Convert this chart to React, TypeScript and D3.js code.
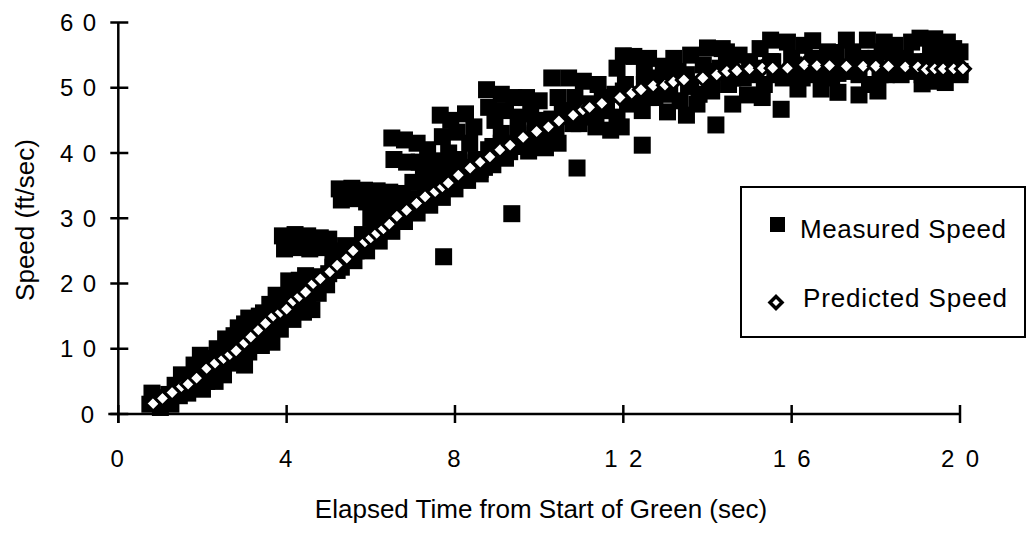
import React from "react";
import * as d3 from "d3";

// ---- data ----
const xTicks = [0, 4, 8, 12, 16, 20];
const yTicks = [0, 10, 20, 30, 40, 50, 60];
const xTitle = "Elapsed Time from Start of Green (sec)";
const yTitle = "Speed (ft/sec)";
const legendLabels = ["Measured Speed", "Predicted Speed"];

// measured speed: [time (sec), speed (ft/sec)]
const measuredPoints: [number, number][] = [
  // low band
  [0.75, 1.5], [0.8, 3.2], [1.0, 2.2], [1.0, 1.0], [1.2, 3.0], [1.25, 1.5], [1.35, 4.4], [1.45, 2.8],
  [1.6, 5.2], [1.65, 3.2], [1.8, 7.5], [1.8, 4.5], [1.95, 9.0], [2.0, 6.0], [2.0, 3.8],
  [2.2, 7.5], [2.3, 5.0], [2.45, 9.5], [2.5, 6.0], [2.65, 10.4], [2.6, 7.8],
  [2.85, 13.2], [2.8, 8.0], [2.95, 11.0], [3.1, 14.7], [3.0, 7.5], [3.1, 9.5], [3.25, 12.0],
  [3.45, 15.5], [3.4, 10.5], [3.55, 13.5], [3.75, 18.2], [3.65, 11.0], [3.8, 15.5], [3.85, 13.0],
  [4.05, 20.4], [4.0, 17.0], [4.15, 14.5], [4.3, 19.0], [4.4, 15.6], [4.45, 21.2], [4.5, 17.5],
  [4.6, 16.0], [4.65, 20.0], [4.75, 18.5], [4.85, 21.0], [4.95, 19.8], [5.1, 23.7], [5.2, 22.0],
  [1.1, 2.5], [1.4, 3.5], [1.7, 4.2], [2.1, 5.0], [2.2, 6.5], [2.4, 7.5], [2.6, 9.0], [2.7, 8.5],
  [2.9, 10.0], [3.0, 12.5], [3.2, 11.0], [3.3, 13.5], [3.5, 12.5], [3.6, 15.0], [3.7, 14.0],
  [3.9, 16.5], [4.0, 15.5], [4.1, 18.0], [4.2, 17.5], [4.35, 17.0], [4.4, 19.5], [4.55, 19.0],
  [4.7, 21.0], [4.8, 20.0], [5.0, 21.5], [5.1, 22.5], [5.3, 22.5], [5.35, 24.5],
  [1.5, 6.0], [1.9, 7.0], [2.1, 8.5], [2.35, 10.0], [2.55, 11.5], [2.75, 12.0], [3.0, 13.8],
  [3.35, 15.0], [3.6, 16.8], [3.8, 17.0], [4.3, 20.5],
  // cluster near 26
  [3.9, 27.3], [3.95, 25.3], [4.2, 27.5], [4.25, 25.5], [4.5, 27.3], [4.55, 25.3], [4.8, 27.0],
  [4.85, 25.5], [5.0, 26.8], [5.15, 25.0], [5.4, 25.8], [5.65, 25.0],
  // cluster near 33
  [5.25, 34.5], [5.3, 32.8], [5.55, 34.6], [5.6, 33.0], [5.85, 34.3], [5.9, 32.5], [6.15, 34.2],
  [6.2, 32.0], [6.45, 34.0], [6.5, 32.5], [6.75, 33.8], [6.9, 32.0], [6.0, 30.0], [6.2, 29.3],
  [6.35, 31.5], [6.6, 31.0],
  // cluster near 40
  [6.5, 42.3], [6.55, 39.0], [6.8, 42.0], [6.85, 38.6], [7.1, 41.5], [7.15, 38.6], [7.35, 40.5],
  [7.5, 38.8], [7.65, 45.8], [7.7, 42.5], [7.85, 40.0], [7.9, 45.0], [8.05, 43.2], [8.1, 39.0],
  [8.25, 46.0], [8.35, 41.5], [8.45, 44.0], [8.5, 38.5], [8.6, 37.5],
  [7.0, 35.5], [7.25, 37.0], [7.5, 36.5], [7.8, 38.0], [8.0, 37.5],
  // cluster 8.7-10
  [8.75, 49.7], [8.8, 47.0], [8.95, 45.0], [9.1, 49.0], [9.2, 46.5], [9.4, 48.5], [9.5, 45.5],
  [9.7, 48.5], [9.8, 46.0], [10.0, 48.0], [10.05, 45.0],
  [8.7, 37.8], [8.9, 41.0], [9.1, 43.0], [9.3, 40.2], [9.5, 42.8], [9.75, 40.3], [9.95, 42.0],
  [10.15, 40.8], [10.3, 43.0], [10.45, 41.5],
  // cluster 10-12
  [10.3, 51.5], [10.45, 48.5], [10.55, 46.0], [10.7, 51.5], [10.85, 48.5], [10.95, 44.5],
  [11.05, 51.0], [11.2, 47.5], [11.35, 44.0], [11.4, 50.5], [11.55, 46.5], [11.7, 43.5],
  [11.8, 49.0], [11.85, 45.5], [11.95, 44.0],
  // cluster 12-13
  [11.85, 53.0], [12.0, 54.9], [12.05, 50.5], [12.25, 54.8], [12.3, 48.0], [12.45, 46.5],
  [12.5, 52.5], [12.6, 54.5], [12.75, 48.5], [12.85, 51.5], [12.95, 53.3], [13.05, 46.3], [13.1, 49.0],
  // cluster 13-15
  [13.3, 52.5], [13.35, 48.0], [13.5, 45.8], [13.55, 50.5], [13.6, 55.0], [13.75, 47.5],
  [13.9, 53.5], [14.0, 56.1], [14.1, 49.5], [14.2, 44.3], [14.3, 53.0], [14.35, 56.0],
  [14.5, 50.5], [14.6, 47.5],
  [14.75, 55.0], [14.85, 51.5], [14.95, 48.9], [15.1, 53.0],
  [13.2, 54.5], [13.8, 49.0], [14.45, 55.5], [15.25, 56.0], [15.3, 48.5],
  // right plateau
  [15.35, 50.5], [15.5, 57.3], [15.55, 54.0], [15.75, 46.7], [15.8, 51.5], [15.9, 57.0],
  [16.05, 53.5], [16.15, 49.8], [16.3, 56.5],
  [16.5, 57.2], [16.6, 53.0], [16.7, 49.8], [16.85, 55.5], [16.95, 51.5],
  [17.05, 55.4], [17.1, 49.3], [17.3, 57.3], [17.35, 52.5], [17.6, 48.9], [17.65, 54.5],
  [17.8, 57.3], [17.85, 50.5], [18.0, 54.5], [18.05, 49.5], [18.2, 57.0], [18.25, 52.0],
  [18.45, 56.5], [18.55, 52.2], [18.7, 54.5], [18.85, 57.0],
  [19.05, 57.6], [19.1, 50.6], [19.25, 54.0], [19.4, 57.5], [19.45, 51.0], [19.6, 54.5],
  [19.7, 57.0], [19.65, 50.8], [20.0, 55.5], [20.0, 52.5],
  [16.25, 51.5], [17.45, 55.5], [18.15, 55.5], [18.9, 52.5], [19.3, 55.5], [19.85, 56.0],
  // along the prediction
  [5.5, 25.5], [5.6, 23.5], [5.8, 27.5], [5.9, 25.0], [6.1, 28.5], [6.2, 26.5], [6.4, 30.0],
  [6.5, 28.0], [6.7, 31.5], [6.8, 29.5], [7.0, 33.0], [7.1, 30.8], [7.3, 34.5], [7.4, 32.0],
  [7.6, 35.5], [7.7, 33.2], [7.9, 36.7], [8.0, 34.5], [8.2, 37.8], [8.3, 35.8], [8.5, 39.0],
  [8.6, 36.8], [8.8, 40.5], [8.9, 38.2], [9.1, 41.5], [9.2, 39.2], [9.5, 43.0], [9.6, 41.0],
  [9.9, 44.2], [10.0, 42.0], [10.3, 45.2], [10.4, 43.0], [10.7, 46.5], [10.8, 44.5],
  [11.1, 47.5], [11.2, 45.5], [11.5, 48.5], [11.6, 46.5], [12.0, 49.5], [12.1, 47.5],
  [12.5, 50.5], [12.6, 48.5], [13.0, 51.5], [13.1, 49.5], [13.5, 52.0], [13.6, 50.2],
  [14.0, 52.5], [14.1, 51.0], [14.5, 53.5], [14.6, 51.5], [15.0, 54.0], [15.1, 52.0],
  [15.5, 54.0], [15.6, 52.0], [16.0, 54.5], [16.1, 52.0], [16.5, 54.5], [16.6, 52.0],
  [17.0, 54.0], [17.1, 52.2], [17.5, 54.2], [17.6, 52.0], [18.0, 54.3], [18.1, 52.0],
  [18.5, 54.2], [18.6, 52.0], [19.0, 54.0], [19.1, 52.0], [19.5, 54.0], [19.6, 52.0],
  [19.9, 53.5], [20.0, 52.0],
  // isolated
  [7.73, 24.1], [9.35, 30.7], [10.9, 37.7], [12.45, 41.2],
];

// predicted speed: [time (sec), speed (ft/sec)]
const predictedPoints: [number, number][] = [
  [0.83, 1.6], [1.05, 2.4], [1.28, 3.3], [1.5, 4.2], [1.66, 4.6], [1.86, 5.5], [2.1, 7.0],
  [2.3, 7.8], [2.5, 8.5], [2.65, 9.1], [2.8, 9.7], [3.0, 10.9], [3.15, 11.8], [3.33, 12.9],
  [3.5, 13.9], [3.68, 15.0], [3.85, 15.6], [4.0, 16.1], [4.15, 17.3], [4.3, 18.0], [4.45, 18.7],
  [4.63, 20.0], [4.8, 20.7], [5.03, 21.8], [5.2, 22.8], [5.43, 23.9], [5.58, 25.0], [5.86, 26.4],
  [6.0, 27.0], [6.14, 27.7], [6.3, 28.4], [6.44, 29.1], [6.62, 30.3], [6.85, 31.2], [7.09, 32.3],
  [7.29, 33.3], [7.53, 34.1], [7.7, 34.8], [7.84, 35.4], [8.08, 36.6], [8.36, 37.7], [8.6, 38.6],
  [8.83, 39.4], [9.07, 40.5], [9.31, 41.2], [9.62, 42.4], [9.94, 43.3], [10.22, 44.0],
  [10.47, 44.9], [10.81, 45.8], [11.04, 46.6], [11.2, 47.0], [11.49, 47.6], [11.92, 48.5],
  [12.2, 49.2], [12.42, 49.7], [12.71, 50.3], [12.99, 50.4], [13.19, 50.9], [13.44, 51.2],
  [13.89, 51.5], [14.22, 52.0], [14.46, 52.5], [14.7, 52.6], [15.0, 52.9], [15.3, 53.0],
  [15.55, 53.0], [15.9, 53.0], [16.3, 53.5], [16.6, 53.4], [16.9, 53.4], [17.3, 53.3],
  [17.7, 53.3], [18.0, 53.3], [18.3, 53.3], [18.7, 53.2], [19.0, 53.2], [19.2, 52.8],
  [19.4, 52.9], [19.6, 52.9], [19.85, 52.9], [20.07, 52.9],
];

const FONT = "'Liberation Sans', Arial, Helvetica, sans-serif";

function diamondPath(r: number) {
  return `M0,${-r}L${r},0L0,${r}L${-r},0Z`;
}

export default function App() {
  const W = 1031;
  const H = 533;
  const x = d3.scaleLinear().domain([0, 20]).range([118.3, 960]);
  const y = d3.scaleLinear().domain([0, 60]).range([414, 22.5]);
  const sq = 17;

  return (
    <svg
      width={W}
      height={H}
      viewBox={`0 0 ${W} ${H}`}
      style={{ position: "absolute", left: 0, top: 0, background: "#fff" }}
      fontFamily={FONT}
    >
      <rect x={0} y={0} width={W} height={H} fill="#fff" />

      {/* axes */}
      <line x1={x(0)} x2={x(0)} y1={y(60)} y2={y(0) + 9} stroke="#000" strokeWidth={2.5} />
      <line x1={x(0) - 10} x2={x(20) + 1} y1={y(0)} y2={y(0)} stroke="#000" strokeWidth={2.5} />
      {yTicks.map((t) => (
        <g key={"yt" + t}>
          <line x1={x(0) - 8} x2={x(0) + 10} y1={y(t)} y2={y(t)} stroke="#000" strokeWidth={2.5} />
          {String(t).length > 1 ? (
            <text x={96 - 36} y={y(t) + 8.6} fontSize={24} textLength={36} lengthAdjust="spacing">
              {t}
            </text>
          ) : (
            <text x={94} y={y(t) + 8.6} fontSize={24} textAnchor="end">
              {t}
            </text>
          )}
        </g>
      ))}
      {xTicks.map((t) => (
        <g key={"xt" + t}>
          <line x1={x(t)} x2={x(t)} y1={y(0) - 9} y2={y(0) + 9} stroke="#000" strokeWidth={2.5} />
          {String(t).length > 1 ? (
            <text x={x(t) - 19} y={467} fontSize={24} textLength={38} lengthAdjust="spacing">
              {t}
            </text>
          ) : (
            <text x={x(t) - 1} y={467} fontSize={24} textAnchor="middle">
              {t}
            </text>
          )}
        </g>
      ))}

      {/* axis titles */}
      <text x={541} y={518} fontSize={26} textAnchor="middle">
        {xTitle}
      </text>
      <text transform={`translate(34,220) rotate(-90)`} fontSize={26} textAnchor="middle">
        {yTitle}
      </text>

      {/* measured */}
      <g>
        {measuredPoints.map(([t, v], i) => (
          <rect key={"m" + i} x={x(t) - sq / 2} y={y(v) - sq / 2} width={sq} height={sq} fill="#000" />
        ))}
      </g>

      {/* predicted */}
      <g>
        {predictedPoints.map(([t, v], i) => (
          <path
            key={"p" + i}
            d={diamondPath(7.5)}
            transform={`translate(${x(t)},${y(v)})`}
            fill="#fff"
            stroke="#000"
            strokeWidth={3}
          />
        ))}
      </g>

      {/* legend */}
      <rect x={741} y={187} width={284} height={150} fill="#fff" stroke="#000" strokeWidth={2} />
      <rect x={770} y={217} width={15} height={15} fill="#000" />
      <text x={800} y={238} fontSize={26} textLength={206} lengthAdjust="spacing">
        {legendLabels[0]}
      </text>
      <path d={diamondPath(6)} transform="translate(776,302.5)" fill="#fff" stroke="#000" strokeWidth={3.5} />
      <text x={803} y={307} fontSize={26} textLength={204} lengthAdjust="spacing">
        {legendLabels[1]}
      </text>
    </svg>
  );
}
